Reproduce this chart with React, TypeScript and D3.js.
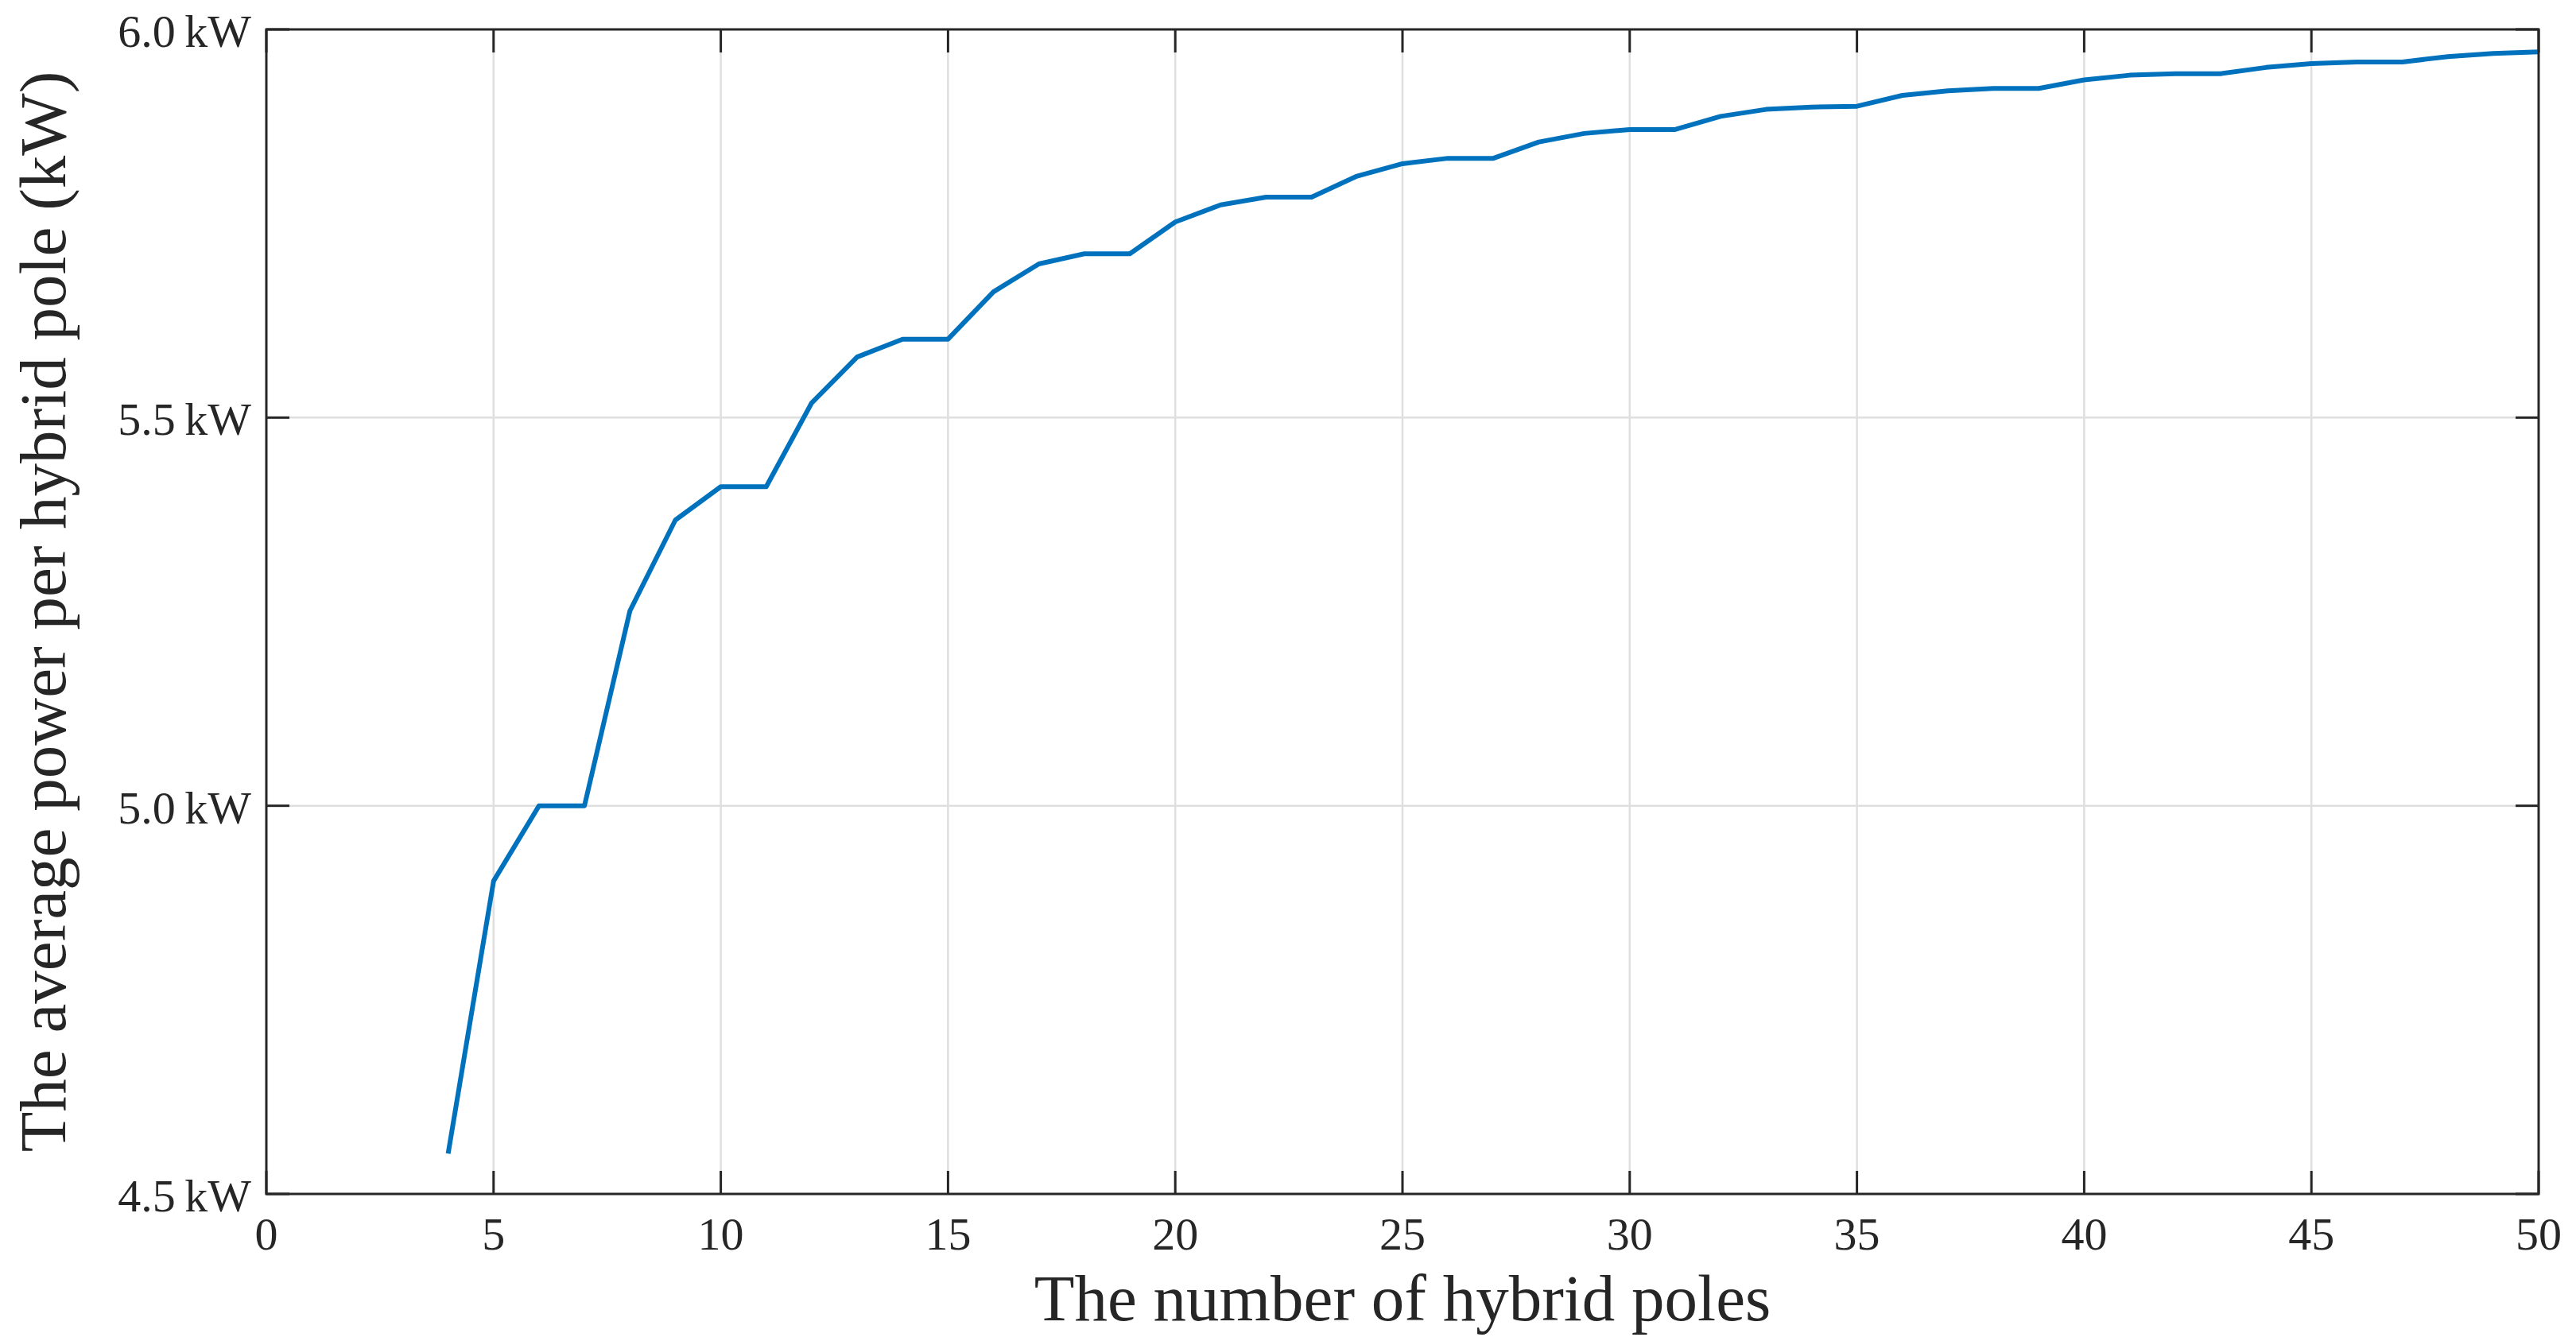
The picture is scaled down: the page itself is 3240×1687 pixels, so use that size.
import React from "react";
import * as d3 from "d3";

const poles = [4,5,6,7,8,9,10,11,12,13,14,15,16,17,18,19,20,21,22,23,24,25,26,27,28,29,30,31,32,33,34,35,36,37,38,39,40,41,42,43,44,45,46,47,48,49,50];
const avgPower = [4.552,4.903,5.0,5.0,5.251,5.368,5.411,5.411,5.519,5.578,5.601,5.601,5.662,5.698,5.711,5.711,5.752,5.774,5.784,5.784,5.811,5.827,5.834,5.834,5.855,5.866,5.871,5.871,5.888,5.897,5.900,5.901,5.915,5.921,5.924,5.924,5.935,5.941,5.943,5.943,5.951,5.956,5.958,5.958,5.965,5.969,5.971];
const xTicks = [0,5,10,15,20,25,30,35,40,45,50];
const yTicks = [4.5,5.0,5.5,6.0];
const xLabel = "The number of hybrid poles";
const yLabel = "The average power per hybrid pole (kW)";

const W = 3240, H = 1687;
const L = 335, R = 3193, T = 37, B = 1502;
const FONT = "'Liberation Serif', 'DejaVu Serif', serif";
const AX = "#262626";

export default function App() {
  const x = d3.scaleLinear().domain([0, 50]).range([L, R]);
  const y = d3.scaleLinear().domain([4.5, 6.0]).range([B, T]);
  const line = d3.line<number>().x((_, i) => x(poles[i])).y((d) => y(d));
  const tickLen = 29;
  return (
    <svg width={W} height={H} style={{ position: "absolute", left: 0, top: 0, background: "#fff" }}>
      <rect x={0} y={0} width={W} height={H} fill="#fff" />
      {/* grid */}
      {xTicks.slice(1, -1).map((t) => (
        <line key={"gx" + t} x1={x(t)} x2={x(t)} y1={T} y2={B} stroke="#dfdfdf" strokeWidth={2.5} />
      ))}
      {yTicks.slice(1, -1).map((t) => (
        <line key={"gy" + t} x1={L} x2={R} y1={y(t)} y2={y(t)} stroke="#dfdfdf" strokeWidth={2.5} />
      ))}
      {/* ticks */}
      {xTicks.map((t) => (
        <g key={"tx" + t}>
          <line x1={x(t)} x2={x(t)} y1={B} y2={B - tickLen} stroke={AX} strokeWidth={3} />
          <line x1={x(t)} x2={x(t)} y1={T} y2={T + tickLen} stroke={AX} strokeWidth={3} />
          <text x={x(t)} y={B + 70} textAnchor="middle" fontFamily={FONT} fontSize={58} fill={AX}>
            {t}
          </text>
        </g>
      ))}
      {yTicks.map((t) => (
        <g key={"ty" + t}>
          <line x1={L} x2={L + tickLen} y1={y(t)} y2={y(t)} stroke={AX} strokeWidth={3} />
          <line x1={R} x2={R - tickLen} y1={y(t)} y2={y(t)} stroke={AX} strokeWidth={3} />
          <text x={316} y={y(t) + 22} textAnchor="end" fontFamily={FONT} fontSize={58} fill={AX}>
            {t.toFixed(1) + "\u2009kW"}
          </text>
        </g>
      ))}
      {/* data line */}
      <path d={line(avgPower) || ""} fill="none" stroke="#0072BD" strokeWidth={6} strokeLinejoin="round" />
      {/* box */}
      <rect x={L} y={T} width={R - L} height={B - T} fill="none" stroke={AX} strokeWidth={3} />
      {/* labels */}
      <text x={(L + R) / 2} y={1661} textAnchor="middle" fontFamily={FONT} fontSize={83} fill={AX}>
        {xLabel}
      </text>
      <text
        transform={`translate(82, ${(T + B) / 2}) rotate(-90)`}
        textAnchor="middle"
        fontFamily={FONT}
        fontSize={83}
        fill={AX}
      >
        {yLabel}
      </text>
    </svg>
  );
}
